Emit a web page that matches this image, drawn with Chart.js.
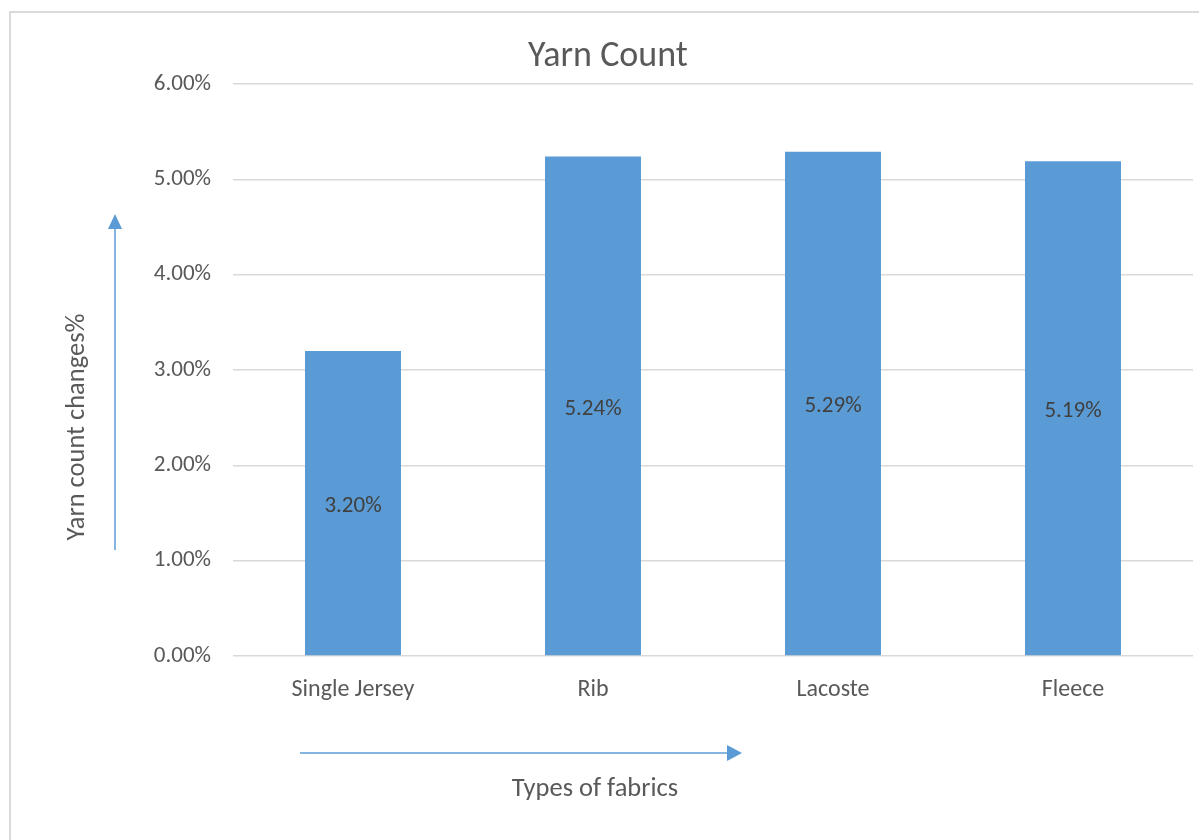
<!DOCTYPE html>
<html>
<head>
<meta charset="utf-8">
<title>Yarn Count</title>
<script src="https://cdn.jsdelivr.net/npm/chart.js@4/dist/chart.umd.min.js"></script>
<style>
  html, body { margin: 0; padding: 0; background: #ffffff; }
  #wrap { position: relative; width: 1199px; height: 840px; }
</style>
</head>
<body>
<div id="wrap"><canvas id="chart" width="1199" height="840"></canvas></div>
<script>
const categories = ['Single Jersey', 'Rib', 'Lacoste', 'Fleece'];
const yarnCountChange = [3.20, 5.24, 5.29, 5.19];
const yTicks = [0, 1, 2, 3, 4, 5, 6];

const chartTitle = 'Yarn Count';
const xAxisTitle = 'Types of fabrics';
const yAxisTitle = 'Yarn count changes%';

const FONT = "Carlito, Lato, 'Open Sans', sans-serif";
const TEXT = '#595959';
const GRID = '#d9d9d9';
const BAR = '#5b9bd5';

// frame, titles, arrows and value labels
const decorations = {
  id: 'decorations',
  beforeDraw(chart) {
    const ctx = chart.ctx;
    ctx.save();
    ctx.strokeStyle = GRID;
    ctx.lineWidth = 2;
    ctx.beginPath();
    ctx.moveTo(10, 840);
    ctx.lineTo(10, 12);
    ctx.lineTo(1199, 12);
    ctx.stroke();
    ctx.restore();
  },
  afterDatasetsDraw(chart) {
    const ctx = chart.ctx;
    const meta = chart.getDatasetMeta(0);
    ctx.save();
    ctx.font = '23px ' + FONT;
    ctx.fillStyle = '#404040';
    ctx.textAlign = 'center';
    ctx.textBaseline = 'middle';
    meta.data.forEach((bar, i) => {
      const v = chart.data.datasets[0].data[i];
      ctx.fillText(v.toFixed(2) + '%', bar.x, (bar.y + bar.base) / 2 + 3);
    });
    ctx.restore();
  },
  afterDraw(chart) {
    const ctx = chart.ctx;
    ctx.save();
    // chart title
    ctx.fillStyle = TEXT;
    ctx.textAlign = 'center';
    ctx.textBaseline = 'middle';
    ctx.font = '36px ' + FONT;
    ctx.fillText(chartTitle, 608, 57);

    // axis titles
    ctx.font = '26.5px ' + FONT;
    ctx.fillText(xAxisTitle, 595, 789);
    ctx.save();
    ctx.translate(77, 427);
    ctx.rotate(-Math.PI / 2);
    ctx.fillText(yAxisTitle, 0, 0);
    ctx.restore();

    // direction arrows
    ctx.strokeStyle = BAR;
    ctx.fillStyle = BAR;
    ctx.lineWidth = 1.5;
    ctx.beginPath();
    ctx.moveTo(115, 550);
    ctx.lineTo(115, 226);
    ctx.stroke();
    ctx.beginPath();
    ctx.moveTo(108, 229);
    ctx.lineTo(115, 214);
    ctx.lineTo(122, 229);
    ctx.closePath();
    ctx.fill();

    ctx.beginPath();
    ctx.moveTo(300, 753);
    ctx.lineTo(730, 753);
    ctx.stroke();
    ctx.beginPath();
    ctx.moveTo(727, 745);
    ctx.lineTo(742, 753);
    ctx.lineTo(727, 761);
    ctx.closePath();
    ctx.fill();
    ctx.restore();
  }
};

new Chart(document.getElementById('chart'), {
  type: 'bar',
  data: {
    labels: categories,
    datasets: [{
      data: yarnCountChange,
      backgroundColor: BAR,
      borderWidth: 0,
      categoryPercentage: 1,
      barPercentage: 0.4
    }]
  },
  options: {
    responsive: false,
    animation: false,
    events: [],
    layout: { padding: { left: 0, right: 6, top: 84, bottom: 124 } },
    plugins: {
      legend: { display: false },
      title: { display: false },
      tooltip: { enabled: false }
    },
    scales: {
      x: {
        grid: { display: false },
        border: { display: false },
        ticks: {
          color: TEXT,
          font: { family: FONT, size: 24 },
          padding: 12,
          maxRotation: 0
        },
        afterFit(scale) { scale.height = 60; }
      },
      y: {
        min: 0,
        max: 6,
        afterBuildTicks(scale) { scale.ticks = yTicks.map(v => ({ value: v })); },
        grid: { color: GRID, lineWidth: 1.5, drawTicks: false },
        border: { display: false },
        ticks: {
          color: TEXT,
          font: { family: FONT, size: 23 },
          padding: 22,
          callback: v => v.toFixed(2) + '%'
        },
        afterFit(scale) { scale.width = 233; }
      }
    }
  },
  plugins: [decorations]
});
</script>
</body>
</html>
